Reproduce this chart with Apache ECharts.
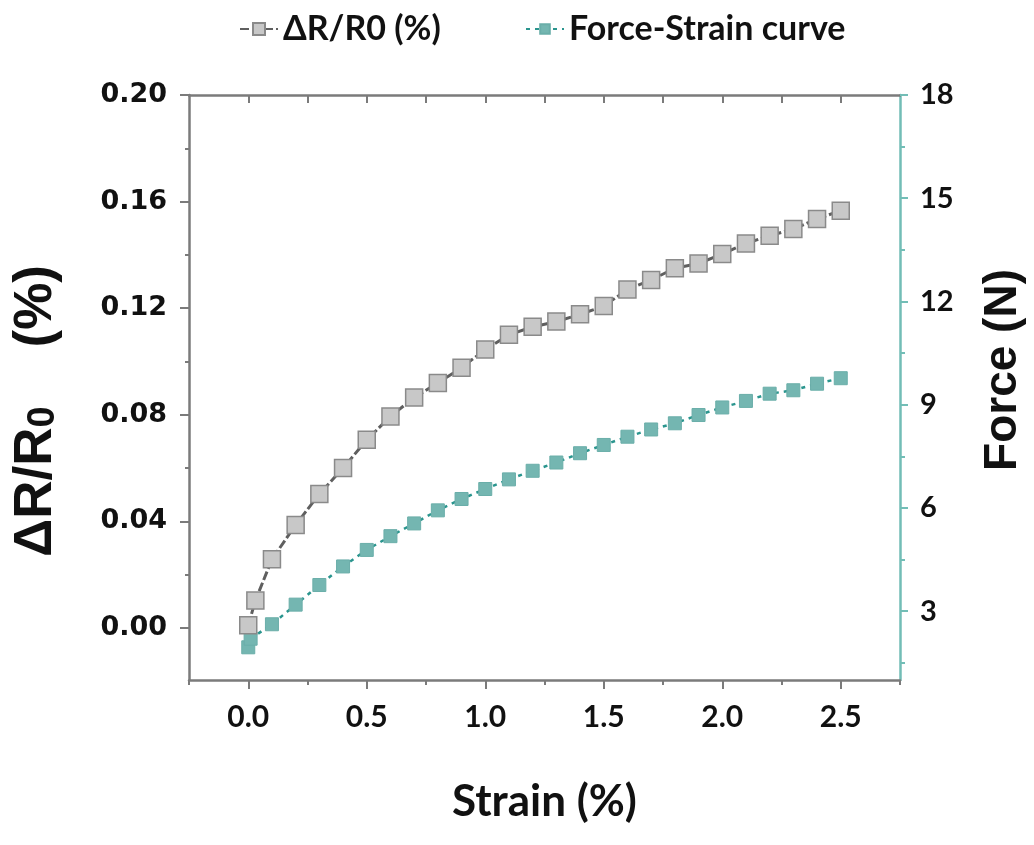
<!DOCTYPE html>
<html>
<head>
<meta charset="utf-8"/>
<title>Strain</title>
<script src="https://cdn.jsdelivr.net/npm/echarts@6/dist/echarts.min.js"></script>
<style>
  html, body { margin: 0; padding: 0; background: #fff; }
  #chart { width: 1034px; height: 845px; }
</style>
</head>
<body>
<div id="chart"></div>
<script type="text/javascript">
// strain (%) for the resistance curve
var strainR = [0, 0.03, 0.1, 0.2, 0.3, 0.4, 0.5, 0.6, 0.7, 0.8, 0.9, 1.0, 1.1, 1.2,
  1.3, 1.4, 1.5, 1.6, 1.7, 1.8, 1.9, 2.0, 2.1, 2.2, 2.3, 2.4, 2.5];
var dR = [0.001, 0.0103, 0.0258, 0.0387, 0.0503, 0.060, 0.0706, 0.0794, 0.0865, 0.0919, 0.0977, 0.1045, 0.110, 0.113,
  0.115, 0.1177, 0.1208, 0.127, 0.1306, 0.135, 0.1368, 0.1403, 0.1443, 0.1472, 0.1497, 0.1535, 0.1566];
// strain (%) for the force curve
var strainF = [0, 0.01, 0.1, 0.2, 0.3, 0.4, 0.5, 0.6, 0.7, 0.8, 0.9, 1.0, 1.1, 1.2,
  1.3, 1.4, 1.5, 1.6, 1.7, 1.8, 1.9, 2.0, 2.1, 2.2, 2.3, 2.4, 2.5];
var force = [1.95, 2.2, 2.62, 3.19, 3.76, 4.30, 4.78, 5.18, 5.55, 5.93, 6.26, 6.55, 6.83, 7.08,
  7.32, 7.59, 7.83, 8.07, 8.28, 8.46, 8.70, 8.92, 9.11, 9.32, 9.42, 9.61, 9.77];

// ticks
var xLabels = [0, 0.5, 1.0, 1.5, 2.0, 2.5];
var xMinor = [-0.25, 0.25, 0.75, 1.25, 1.75, 2.25, 2.75];
var xTop = [0, 0.25, 0.5, 0.75, 1.0, 1.25, 1.5, 1.75, 2.0, 2.25, 2.5];
var yLeftLabels = [0, 0.04, 0.08, 0.12, 0.16, 0.20];
var yLeftMinor = [0.02, 0.06, 0.10, 0.14, 0.18];
var yRightLabels = [3, 6, 9, 12, 15, 18];
var yRightMinor = [1.5, 4.5, 7.5, 10.5, 13.5, 16.5];

function pairs(xs, ys) {
  return xs.map(function (x, i) { return [x, ys[i]]; });
}

var gray = '#7b7b7b';
var teal = '#72bdb6';
var lato = 'Lato';
var arial = 'Liberation Sans';
var xMin = -0.25, xMax = 2.75;
var lMin = -0.0195, lMax = 0.2;
var rMin = 1.0, rMax = 18;

var myChart = echarts.init(document.getElementById('chart'));
var option = {
  backgroundColor: '#fff',
  animation: false,
  grid: { left: 189, right: 130, top: 95, bottom: 165 },
  legend: [
    {
      left: 234, top: 7, itemWidth: 38, itemHeight: 15, itemGap: 10,
      textStyle: { fontFamily: lato, fontWeight: 'bold', fontSize: 34, color: '#111' },
      data: ['ΔR/R0 (%)']
    },
    {
      left: 520, top: 7, itemWidth: 38, itemHeight: 12, itemGap: 10,
      textStyle: { fontFamily: lato, fontWeight: 'bold', fontSize: 34, color: '#111' },
      data: ['Force-Strain curve']
    }
  ],
  xAxis: [
    {
      type: 'value', position: 'bottom', min: xMin, max: xMax,
      name: 'Strain (%)', nameLocation: 'middle', nameGap: 100,
      nameTextStyle: { fontFamily: lato, fontWeight: 'bold', fontSize: 44, color: '#111' },
      axisLine: { onZero: false, lineStyle: { color: gray, width: 2.5 } },
      axisTick: { customValues: xLabels, length: 9, lineStyle: { color: gray, width: 2 } },
      axisLabel: { customValues: xLabels, margin: 22, fontFamily: lato, fontWeight: 'bold', fontSize: 30, color: '#111',
        formatter: function (v) { return v.toFixed(1); } },
      splitLine: { show: false }
    },
    {
      type: 'value', position: 'bottom', min: xMin, max: xMax,
      axisLine: { show: false, onZero: false },
      axisTick: { customValues: xMinor, length: 5, lineStyle: { color: gray, width: 2 } },
      axisLabel: { show: false }, splitLine: { show: false }
    },
    {
      type: 'value', position: 'top', min: xMin, max: xMax,
      axisLine: { onZero: false, lineStyle: { color: gray, width: 2.5 } },
      axisTick: { customValues: xTop, inside: true, length: 8, lineStyle: { color: gray, width: 2 } },
      axisLabel: { show: false }, splitLine: { show: false }
    }
  ],
  yAxis: [
    {
      type: 'value', position: 'left', min: lMin, max: lMax,
      name: 'ΔR/R{s|0}    (%)', nameLocation: 'middle', nameGap: 126,
      nameTextStyle: { fontFamily: arial, fontWeight: 'bold', fontSize: 53, color: '#111',
        padding: [0, 47, 0, 0],
        rich: { s: { fontFamily: arial, fontWeight: 'bold', fontSize: 38, color: '#111', verticalAlign: 'bottom' } } },
      axisLine: { onZero: false, lineStyle: { color: gray, width: 2.5 } },
      axisTick: { customValues: yLeftLabels, length: 9, lineStyle: { color: gray, width: 2 } },
      axisLabel: { customValues: yLeftLabels, margin: 22, fontFamily: 'DejaVu Sans', fontWeight: 'bold', fontSize: 27, color: '#111',
        formatter: function (v) { return v.toFixed(2); } },
      splitLine: { show: false }
    },
    {
      type: 'value', position: 'right', min: rMin, max: rMax,
      name: 'Force (N)', nameLocation: 'middle', nameGap: 80,
      nameTextStyle: { fontFamily: arial, fontWeight: 'bold', fontSize: 46, color: '#111', padding: [0, 0, 0, 35] },
      axisLine: { onZero: false, lineStyle: { color: teal, width: 2.5 } },
      axisTick: { customValues: yRightLabels, length: 8, lineStyle: { color: teal, width: 2 } },
      axisLabel: { customValues: yRightLabels, margin: 20, fontFamily: lato, fontWeight: 'bold', fontSize: 29, color: '#111' },
      splitLine: { show: false }
    },
    {
      type: 'value', position: 'left', min: lMin, max: lMax,
      axisLine: { show: false, onZero: false },
      axisTick: { customValues: yLeftMinor, length: 4, lineStyle: { color: gray, width: 2 } },
      axisLabel: { show: false }, splitLine: { show: false }
    },
    {
      type: 'value', position: 'right', min: rMin, max: rMax,
      axisLine: { show: false, onZero: false },
      axisTick: { customValues: yRightMinor, length: 5, lineStyle: { color: teal, width: 2 } },
      axisLabel: { show: false }, splitLine: { show: false }
    }
  ],
  series: [
    {
      name: 'Force-Strain curve', type: 'line', xAxisIndex: 0, yAxisIndex: 1,
      data: pairs(strainF, force),
      symbol: 'rect', symbolSize: 13,
      itemStyle: { color: '#74b6b1', borderColor: '#6aaea9', borderWidth: 1 },
      lineStyle: { color: '#2a958e', width: 2.5, type: [4, 5] },
      z: 3
    },
    {
      name: 'ΔR/R0 (%)', type: 'line', xAxisIndex: 0, yAxisIndex: 0,
      data: pairs(strainR, dR),
      symbol: 'rect', symbolSize: 17,
      itemStyle: { color: '#c8c8c8', borderColor: '#8a8a8a', borderWidth: 1.5 },
      lineStyle: { color: '#5f5f5f', width: 3, type: [9, 3] },
      z: 4
    }
  ]
};
myChart.setOption(option);
</script>
</body>
</html>
